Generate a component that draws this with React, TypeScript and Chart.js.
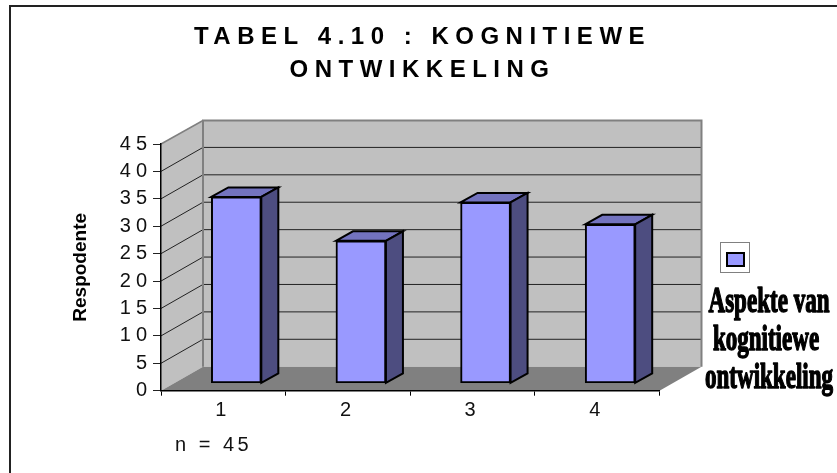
import React, { useEffect, useRef } from "react";
import { Chart, registerables, layouts } from "chart.js";

Chart.register(...registerables);

const categories = ["1", "2", "3", "4"];
const values = [34, 26, 33, 29];
const titleLines = ["TABEL 4.10 : KOGNITIEWE", "ONTWIKKELING"];
const yAxisTitle = "Respodente";
const legendLines = ["Aspekte van", "kognitiewe", "ontwikkeling"];
const seriesName = legendLines.join(" ");
const footnote = "n = 45";

const SANS = '"Liberation Sans", Arial, sans-serif';
const WALL_DX = 42;
const WALL_DY = 24;
const BAR_SHIFT_X = 13;
const BAR_SHIFT_Y = 7.4;
const BAR_DX = 17;
const BAR_DY = 9.5;

function poly(ctx: CanvasRenderingContext2D, pts: number[][], fill: string, stroke?: string, lw = 1) {
  ctx.beginPath();
  pts.forEach((p, i) => (i ? ctx.lineTo(p[0], p[1]) : ctx.moveTo(p[0], p[1])));
  ctx.closePath();
  ctx.fillStyle = fill;
  ctx.fill();
  if (stroke) {
    ctx.strokeStyle = stroke;
    ctx.lineWidth = lw;
    ctx.lineJoin = "miter";
    ctx.stroke();
  }
}

const scenePlugin = {
  id: "scene",
  beforeDraw(chart: any) {
    const { ctx, chartArea: a, scales } = chart;
    const y = scales.y;
    ctx.save();
    ctx.fillStyle = "#fff";
    ctx.fillRect(0, 0, chart.width, chart.height);
    // outer frame: only top and left edges are inside the picture
    ctx.strokeStyle = "#222";
    ctx.lineWidth = 2;
    ctx.beginPath();
    ctx.moveTo(chart.width, 6);
    ctx.lineTo(10, 6);
    ctx.lineTo(10, chart.height);
    ctx.stroke();

    const bx = a.left + WALL_DX;
    const by = a.bottom - WALL_DY;
    const bt = a.top - WALL_DY + 0.5;
    const br = a.right + WALL_DX;
    // side wall
    poly(ctx, [[a.left, a.bottom], [a.left, a.top], [bx, bt], [bx, by]], "#c0c0c0");
    ctx.strokeStyle = "#808080";
    ctx.lineWidth = 1.5;
    ctx.beginPath();
    ctx.moveTo(a.left, a.top);
    ctx.lineTo(bx, bt);
    ctx.stroke();
    // back wall
    ctx.fillStyle = "#c0c0c0";
    ctx.fillRect(bx, bt, br - bx, by - bt);
    // floor
    poly(ctx, [[a.left, a.bottom], [bx, by], [br, by], [a.right, a.bottom]], "#808080");
    // grid lines, side wall then back wall
    ctx.strokeStyle = "#222";
    ctx.lineWidth = 1;
    for (const t of y.ticks) {
      if (t.value === 0 || t.value === y.max) continue;
      const py = y.getPixelForValue(t.value);
      ctx.beginPath();
      ctx.moveTo(a.left, py);
      ctx.lineTo(bx, py - WALL_DY);
      ctx.lineTo(br, py - WALL_DY);
      ctx.stroke();
    }
    // back wall frame
    ctx.strokeStyle = "#808080";
    ctx.lineWidth = 2;
    ctx.beginPath();
    ctx.moveTo(bx, by);
    ctx.lineTo(bx, bt);
    ctx.lineTo(br, bt);
    ctx.lineTo(br, by);
    ctx.stroke();
    ctx.restore();
    ctx.letterSpacing = "5px";
  },
  beforeDatasetsDraw(chart: any) {
    const { ctx } = chart;
    ctx.save();
    ctx.translate(BAR_SHIFT_X, -BAR_SHIFT_Y);
    // 3D sides of each bar, behind the bar's own front face
    for (const el of chart.getDatasetMeta(0).data) {
      const l = el.x - el.width / 2;
      const r = el.x + el.width / 2;
      const t = el.y;
      const b = el.base;
      poly(ctx, [[l, t], [l + BAR_DX, t - BAR_DY], [r + BAR_DX, t - BAR_DY], [r, t]], "#7373bf", "#000", 2);
      poly(ctx, [[r, t], [r + BAR_DX, t - BAR_DY], [r + BAR_DX, b - BAR_DY], [r, b]], "#4d4d80", "#000", 2);
    }
  },
  afterDatasetsDraw(chart: any) {
    chart.ctx.restore();
  },
  afterDraw(chart: any) {
    const { ctx } = chart;
    ctx.save();
    ctx.fillStyle = "#111";
    ctx.font = `20px ${SANS}`;
    ctx.letterSpacing = "3.5px";
    ctx.textBaseline = "middle";
    ctx.textAlign = "left";
    ctx.fillText(footnote, 175, 445);
    ctx.restore();
    ctx.letterSpacing = "0px";
  },
};

function legendBox(chart: any) {
  return {
    position: "right",
    weight: 0,
    fullSize: false,
    options: {},
    width: 177.5,
    height: 0,
    top: 0,
    left: 0,
    right: 0,
    bottom: 0,
    isHorizontal: () => false,
    update(this: any, _w: number, h: number) {
      this.width = 177.5;
      this.height = h;
    },
    getPadding: () => ({ left: 0, right: 0, top: 0, bottom: 0 }),
    draw() {
      const ctx = chart.ctx as CanvasRenderingContext2D;
      ctx.save();
      ctx.letterSpacing = "0px";
      ctx.fillStyle = "#fff";
      ctx.strokeStyle = "#808080";
      ctx.lineWidth = 1;
      ctx.fillRect(720.5, 242.5, 29, 30);
      ctx.strokeRect(720.5, 242.5, 29, 30);
      ctx.fillStyle = "#9999ff";
      ctx.strokeStyle = "#000";
      ctx.lineWidth = 2;
      ctx.fillRect(727, 253, 17, 13);
      ctx.strokeRect(727, 253, 17, 13);
      ctx.font = `bold 24px "Liberation Serif", serif`;
      ctx.textAlign = "center";
      ctx.textBaseline = "alphabetic";
      ctx.fillStyle = "#000";
      ctx.strokeStyle = "#000";
      ctx.lineWidth = 1;
      ctx.lineJoin = "round";
      const ys = [312, 350, 388];
      const xs = [769, 766, 769];
      legendLines.forEach((line, i) => {
        ctx.save();
        ctx.translate(xs[i], ys[i]);
        ctx.scale(0.96, 1.45);
        ctx.fillText(line, 0, 0);
        ctx.strokeText(line, 0, 0);
        ctx.restore();
      });
      ctx.restore();
    },
  };
}

export default function App() {
  const canvas = useRef<HTMLCanvasElement>(null);

  useEffect(() => {
    const chart: any = new Chart(canvas.current!, {
      type: "bar",
      data: {
        labels: categories,
        datasets: [
          {
            label: seriesName,
            data: values,
            backgroundColor: "#9999ff",
            borderColor: "#000",
            borderWidth: 2,
            borderSkipped: false,
            barThickness: 50,
          },
        ],
      },
      options: {
        responsive: false,
        animation: false,
        layout: { padding: 0 },
        plugins: {
          legend: { display: false },
          tooltip: { enabled: false },
          title: {
            display: true,
            text: titleLines,
            color: "#000",
            font: { family: SANS, size: 24, weight: "bold", lineHeight: "33px" },
            padding: { top: 21, bottom: 57 },
          },
        },
        scales: {
          x: {
            afterFit(s: any) {
              s.height = 82.3;
            },
            border: { color: "#000", width: 1.5 },
            grid: { drawOnChartArea: false, drawTicks: true, tickLength: 5, color: "#000" },
            ticks: { color: "#111", font: { family: SANS, size: 20 }, padding: 3, maxRotation: 0 },
          },
          y: {
            min: 0,
            max: 45,
            afterFit(s: any) {
              s.width = 161;
            },
            border: { color: "#000", width: 1.5 },
            grid: { drawOnChartArea: false, drawTicks: true, tickLength: 8, color: "#222" },
            ticks: { stepSize: 5, autoSkip: false, color: "#111", font: { family: SANS, size: 20 }, padding: 1 },
            title: {
              display: true,
              text: yAxisTitle,
              color: "#000",
              font: { family: SANS, size: 19, weight: "bold" },
              padding: { top: 69.6, bottom: 0 },
            },
          },
        },
      },
      plugins: [scenePlugin],
    });
    const t = chart.titleBlock;
    const drawTitle = t.draw;
    t.draw = function () {
      const ctx = chart.ctx;
      ctx.save();
      ctx.letterSpacing = "6.5px";
      ctx.translate(4, 0);
      drawTitle.call(t);
      ctx.restore();
    };
    const yScale = chart.scales.y;
    const dl = yScale.drawTitle;
    yScale.drawTitle = function (...args: any[]) {
      const ctx = chart.ctx;
      ctx.save();
      ctx.letterSpacing = "0px";
      dl.apply(yScale, args);
      ctx.restore();
    };
    layouts.addBox(chart, legendBox(chart) as any);
    chart.update();
    return () => {
      chart.destroy();
    };
  }, []);

  return (
    <div style={{ position: "absolute", left: 0, top: 0, width: 837, height: 473 }}>
      <canvas ref={canvas} width={837} height={473} style={{ display: "block" }} />
    </div>
  );
}
